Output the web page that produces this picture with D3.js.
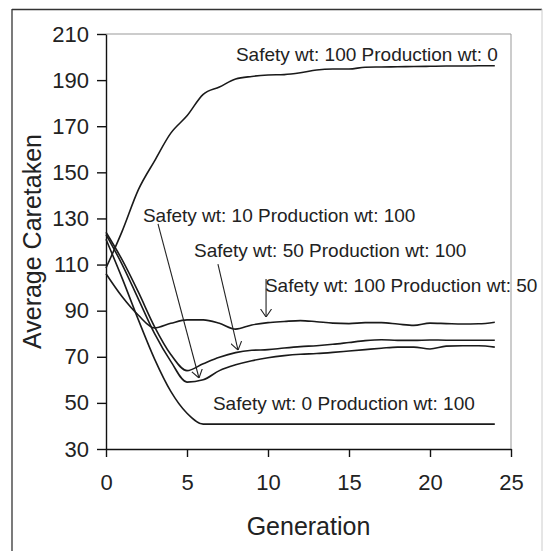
<!DOCTYPE html>
<html>
<head>
<meta charset="utf-8">
<script src="https://cdn.jsdelivr.net/npm/d3@7"></script>
<style>
  body { margin: 0; background: #fff; }
  svg text { font-family: "Liberation Sans", Arial, sans-serif; fill: #222; }
</style>
</head>
<body>
<div id="chart"></div>
<script>
// Chart values
const generations = [0, 1, 2, 3, 4, 5, 6, 7, 8, 9, 10, 11, 12, 13, 14, 15, 16, 17, 18, 19, 20, 21, 22, 23, 24];
const safety100prod0 = [108.5, 124.5, 142.5, 155, 167, 174.5, 183.8, 187, 190.5, 191.6, 192.2, 192.4, 193.2, 194.4, 194.8, 194.8, 195.6, 195.7, 195.8, 195.9, 196, 196.1, 196.1, 196.2, 196.2];
const safety10prod100 = [123, 110, 95, 80, 68, 59, 60, 64, 66.5, 68.3, 69.6, 70.5, 71.1, 71.4, 71.9, 72.5, 73.1, 73.7, 74.2, 74.2, 73.4, 74.6, 74.8, 74.8, 74.2];
const safety50prod100 = [124, 112, 98, 83, 71, 64, 67, 69.8, 71.8, 72.8, 73.1, 73.8, 74.4, 74.8, 75.4, 76.2, 77, 77.4, 77.1, 77.1, 77.3, 77.2, 77.2, 77.2, 77.2];
const safety100prod50 = [106, 96, 88, 82.5, 84.5, 86, 86, 84.5, 82, 83.8, 84.8, 85.3, 85.7, 85.2, 84.6, 84.4, 84.8, 84.8, 84.2, 83.6, 84.6, 84.4, 84.2, 84.3, 85];
const safety0prod100 = [121, 104, 86, 69, 55, 45.5, 40.8, 40.8, 40.8, 40.8, 40.8, 40.8, 40.8, 40.8, 40.8, 40.8, 40.8, 40.8, 40.8, 40.8, 40.8, 40.8, 40.8, 40.8, 40.8];

const xTicks = [0, 5, 10, 15, 20, 25];
const yTicks = [30, 50, 70, 90, 110, 130, 150, 170, 190, 210];

// Annotation labels and arrows, in data units (generation, caretaken)
const labelTexts = ['Safety wt: 100 Production wt: 0', 'Safety wt: 10 Production wt: 100', 'Safety wt: 50 Production wt: 100', 'Safety wt: 100 Production wt: 50', 'Safety wt: 0 Production wt: 100'];
const labelGen = [8.02, 2.28, 5.43, 9.81, 6.6];
const labelVal = [198.3, 128.5, 113.3, 98.1, 47];
const arrowFrom = [[3.21, 127.6], [6.91, 110.2], [9.88, 103.7]];
const arrowTo = [[5.74, 60.8], [8.15, 72.9], [9.88, 87.25]];

const width = 543;
const height = 551;
const margin = {top: 34, right: 32, bottom: 102, left: 106};

const svg = d3.select('#chart').append('svg')
    .attr('width', width)
    .attr('height', height);

// outer frame
svg.append('line').attr('x1', 12).attr('y1', 9.5).attr('x2', 542).attr('y2', 9.5).attr('stroke', '#333').attr('stroke-width', 1.3);
svg.append('line').attr('x1', 12).attr('y1', 9).attr('x2', 12).attr('y2', height).attr('stroke', '#333').attr('stroke-width', 1.3);
svg.append('line').attr('x1', 542).attr('y1', 9).attr('x2', 542).attr('y2', height).attr('stroke', '#ccc').attr('stroke-width', 1);

const x = d3.scaleLinear().domain([0, 25]).range([margin.left, width - margin.right]);
const y = d3.scaleLinear().domain([30, 210]).range([height - margin.bottom - 0, margin.top]);

// plot area top and right borders
svg.append('line').attr('x1', x(0)).attr('x2', x(25)).attr('y1', y(210)).attr('y2', y(210)).attr('stroke', '#999').attr('stroke-width', 1);
svg.append('line').attr('x1', x(25)).attr('x2', x(25)).attr('y1', y(210)).attr('y2', y(30)).attr('stroke', '#999').attr('stroke-width', 1);

// axes
const yAxis = svg.append('g')
    .attr('transform', `translate(${x(0)},0)`)
    .call(d3.axisLeft(y).tickValues(yTicks).tickSize(9).tickSizeOuter(0).tickPadding(8));
const xAxis = svg.append('g')
    .attr('transform', `translate(0,${y(30)})`)
    .call(d3.axisBottom(x).tickValues(xTicks).tickSize(8).tickSizeOuter(0).tickPadding(17));

[xAxis, yAxis].forEach(function(g) {
    g.select('.domain').attr('stroke', '#111').attr('stroke-width', 1.4);
    g.selectAll('.tick line').attr('stroke', '#111').attr('stroke-width', 1.4);
    g.selectAll('.tick text')
        .attr('font-size', 22)
        .attr('font-family', '"Liberation Sans", Arial, sans-serif')
        .attr('fill', '#222');
});

// axis titles
svg.append('text')
    .attr('x', (x(0) + x(25)) / 2)
    .attr('y', 535)
    .attr('text-anchor', 'middle')
    .attr('font-size', 25)
    .text('Generation');

svg.append('text')
    .attr('transform', `translate(41,${(y(30) + y(210)) / 2}) rotate(-90)`)
    .attr('text-anchor', 'middle')
    .attr('font-size', 25)
    .text('Average Caretaken');

// data lines
const seriesList = [safety100prod0, safety10prod100, safety50prod100, safety100prod50, safety0prod100];
const line = d3.line()
    .x(function(d, i) { return x(generations[i]); })
    .y(function(d) { return y(d); })
    .curve(d3.curveMonotoneX);

svg.selectAll('path.series')
    .data(seriesList)
    .join('path')
    .attr('class', 'series')
    .attr('d', line)
    .attr('fill', 'none')
    .attr('stroke', '#1a1a1a')
    .attr('stroke-width', 1.6);

// arrow marker
svg.append('defs').append('marker')
    .attr('id', 'arrow')
    .attr('viewBox', '0 0 8 12')
    .attr('refX', 8)
    .attr('refY', 6)
    .attr('markerWidth', 8)
    .attr('markerHeight', 12)
    .attr('markerUnits', 'userSpaceOnUse')
    .attr('orient', 'auto')
    .append('path')
    .attr('d', 'M0,0.5 L8,6 L0,11.5')
    .attr('fill', 'none')
    .attr('stroke', '#222')
    .attr('stroke-width', 1.1);

// labels
svg.selectAll('text.label')
    .data(labelTexts)
    .join('text')
    .attr('class', 'label')
    .attr('x', function(d, i) { return x(labelGen[i]); })
    .attr('y', function(d, i) { return y(labelVal[i]); })
    .attr('font-size', 19)
    .text(function(d) { return d; });

// arrows
svg.selectAll('line.arrow')
    .data(arrowFrom)
    .join('line')
    .attr('class', 'arrow')
    .attr('x1', function(d) { return x(d[0]); })
    .attr('y1', function(d) { return y(d[1]); })
    .attr('x2', function(d, i) { return x(arrowTo[i][0]); })
    .attr('y2', function(d, i) { return y(arrowTo[i][1]); })
    .attr('stroke', '#222')
    .attr('stroke-width', 1.1)
    .attr('marker-end', 'url(#arrow)');
</script>
</body>
</html>
